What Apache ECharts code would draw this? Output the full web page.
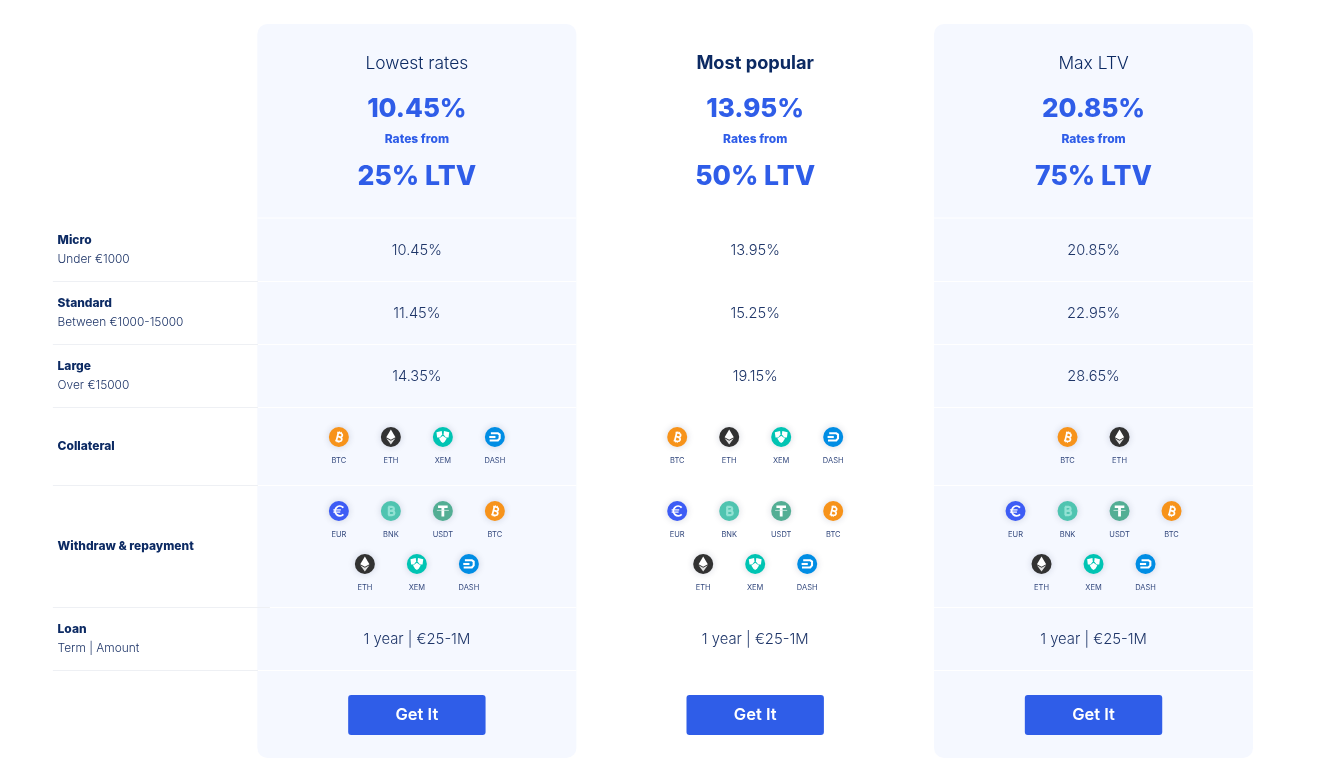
<!DOCTYPE html>
<html><head><meta charset="utf-8">
<style>html,body{margin:0;padding:0;background:#fff;overflow:hidden}#c{width:1318px;height:765px}</style>
<script src="https://cdn.jsdelivr.net/npm/echarts@6/dist/echarts.min.js"></script>
</head><body><div id="c"></div>
<script>
// ---- data ----
const plans = ['Lowest rates', 'Most popular', 'Max LTV'];
const headlineRates = ['10.45%', '13.95%', '20.85%'];
const ltvs = ['25% LTV', '50% LTV', '75% LTV'];
const microRates = ['10.45%', '13.95%', '20.85%'];
const standardRates = ['11.45%', '15.25%', '22.95%'];
const largeRates = ['14.35%', '19.15%', '28.65%'];
const loanTerms = ['1 year | €25-1M', '1 year | €25-1M', '1 year | €25-1M'];
const rowTitles = ['Micro', 'Standard', 'Large', 'Collateral', 'Withdraw & repayment', 'Loan'];
const rowNotes = ['Under €1000', 'Between €1000-15000', 'Over €15000', '', '', 'Term | Amount'];
const collateral = [['BTC','ETH','XEM','DASH'], ['BTC','ETH','XEM','DASH'], ['BTC','ETH']];
const withdrawTop = ['EUR','BNK','USDT','BTC'];
const withdrawBottom = ['ETH','XEM','DASH'];
const ratesFromLabel = 'Rates from';
const buttonLabel = 'Get It';

// ---- layout & style ----
const Y = {cardTop:24, cardBottom:758, plan:64, headline:109, from:139.5, ltv:176.5, micro:251, standard:314, large:377,
  loan:640, btnTop:695, btnBottom:735, collateral:437, wTop:511, wBottom:564};
const cardPlans = [0, 2];
const cardLines = [218, 281.5, 344.5, 407.5, 485.5, 607.5, 670.5];
const sideLines = [281.5, 344.5, 407.5, 485.5, 607.5, 670.5];
const sideRows = [[240,259.5],[303,322.5],[366,385.5],[446,null],[546,null],[629,648.5]];
const NAVY='#0c2a63', BLUE='#2f5de8', BODY='#1e3568', CARD='#f5f8ff';
const HEAD='Inter';
const icons = {
  BTC:{bg:'#f7931a',g:'btc'}, ETH:{bg:'#323232',g:'eth'}, XEM:{bg:'#00c4b3',g:'xem'}, DASH:{bg:'#008de4',g:'dash'},
  EUR:{bg:'#3d5cf5',g:'eur'}, BNK:{bg:'#4fc4b0',g:'bnk'}, USDT:{bg:'#53ae94',g:'usdt'}
};
const W='#fff';
const pl=(points,lw,c)=>({type:'polyline',shape:{points},style:{stroke:c||W,lineWidth:lw,fill:null}});
const pg=(points,c)=>({type:'polygon',shape:{points},style:{fill:c||W}});
const bShape=[[-2.6,-4.2],[1,-4.2],[2.6,-3.4],[3,-2.1],[2.6,-0.9],[1,-0.2],[3,0.6],[3.5,2],[3,3.4],[1,4.2],[-2.6,4.2]];
const glyphs = {
  btc:()=>({type:'group',rotation:-0.24,children:[
    pl(bShape,1.7), pl([[-1.5,-4.2],[-1.5,4.2]],1.7), pl([[-1.5,-0.2],[1,-0.2]],1.7),
    pl([[-0.5,-5.6],[-0.5,-4]],1), pl([[1.3,-5.6],[1.3,-4]],1), pl([[-0.5,4],[-0.5,5.6]],1), pl([[1.3,4],[1.3,5.6]],1)]}),
  eth:()=>({type:'group',children:[
    pg([[0,-7.4],[4.6,0.2],[0,2.8],[-4.6,0.2]]), pg([[0,3.8],[4.6,1.2],[0,7.4],[-4.6,1.2]],'#e2e2e2')]}),
  xem:()=>({type:'group',children:[
    pg([[-6.4,-4.8],[-1.1,-6],[-0.7,-2.6],[-3,0.6],[-5.7,0.4]]),
    pg([[1.1,-6],[6.4,-4.8],[5.7,0.4],[3,0.6],[0.7,-2.6]]),
    pg([[-3.8,1.6],[0,-1.3],[3.8,1.6],[1.8,4.8],[0,6],[-1.8,4.8]])]}),
  dash:()=>({type:'group',children:[
    pl([[-4,-3.8],[3,-3.8],[4.8,-2.4],[4.8,1.4],[3,3.5],[-5.2,3.5]],2.1), pl([[-5.6,0],[0.6,0]],2.1)]}),
  eur:()=>({type:'group',children:[
    {type:'arc',shape:{cx:1,cy:0,r:4.8,startAngle:0.75,endAngle:Math.PI*2-0.75,clockwise:true},style:{stroke:W,lineWidth:1.8,fill:null}},
    pl([[-5.6,-1.1],[2,-1.1]],1.2), pl([[-5.6,1.1],[1.4,1.1]],1.2)]}),
  bnk:()=>({type:'group',children:[
    pl(bShape,2.2,'#93e2d4'), pl([[-2,-4.2],[-2,4.2]],2.2,'#93e2d4'), pl([[-2,-0.2],[1,-0.2]],2.2,'#93e2d4')]}),
  usdt:()=>({type:'group',children:[
    pg([[-4.8,-5.4],[4.8,-5.4],[4.8,-3],[1.4,-3],[1.4,5.6],[-1.4,5.6],[-1.4,-3],[-4.8,-3]]),
    pl([[-6,-0.6],[6,-0.6]],0.8,'#d8f0e8')]})
};

// ---- cell table built from the arrays ----
const texts=[], iconCells=[];
plans.forEach((p,i)=>{
  texts.push({i,y:Y.plan,t:p,f:HEAD,s:i===1?18.2:17.4,w:i===1?700:300,c:NAVY});
  texts.push({i,y:Y.headline,t:headlineRates[i],f:HEAD,s:26,w:800,c:BLUE});
  texts.push({i,y:Y.from,t:ratesFromLabel,f:HEAD,s:12,w:800,c:BLUE});
  texts.push({i,y:Y.ltv,t:ltvs[i],f:HEAD,s:26.6,w:800,c:BLUE});
  texts.push({i,y:Y.micro,t:microRates[i],f:HEAD,s:14.6,w:300,c:BODY});
  texts.push({i,y:Y.standard,t:standardRates[i],f:HEAD,s:14.6,w:300,c:BODY});
  texts.push({i,y:Y.large,t:largeRates[i],f:HEAD,s:14.6,w:300,c:BODY});
  texts.push({i,y:Y.loan,t:loanTerms[i],f:HEAD,s:14.8,w:300,c:BODY});
  const place=(list,y)=>list.forEach((a,k)=>iconCells.push({i,y,a,dx:(k-(list.length-1)/2)*52}));
  place(collateral[i],Y.collateral); place(withdrawTop,Y.wTop); place(withdrawBottom,Y.wBottom);
});

const ax = (api,i,y)=>api.coord([plans[i],y]);
const txt=(x,y,o,align)=>({type:'text',x,y,style:{text:o.t,fill:o.c,fontFamily:o.f,fontSize:o.s,fontWeight:o.w,textAlign:align||'center',textVerticalAlign:'middle'}});

const series=[
  {type:'custom',silent:true,clip:false,z:1,data:cardPlans,renderItem:(p,api)=>{
    const i=cardPlans[p.dataIndex], a=ax(api,i,Y.cardTop), b=ax(api,i,Y.cardBottom), w=319;
    const kids=[{type:'rect',shape:{x:a[0]-w/2,y:a[1],width:w,height:b[1]-a[1],r:10},style:{fill:CARD}}];
    cardLines.forEach(v=>{const q=ax(api,i,v);kids.push({type:'line',shape:{x1:a[0]-w/2,y1:q[1],x2:a[0]+w/2,y2:q[1]},style:{stroke:'#fff',lineWidth:1}});});
    return {type:'group',children:kids};
  }},
  {type:'custom',silent:true,clip:false,z:2,data:sideLines,renderItem:(p,api)=>{
    const v=sideLines[p.dataIndex], o=ax(api,0,v);
    const x1=o[0]-364, x2=o[0]-159+(v===607.5?12:0);
    return {type:'line',shape:{x1,y1:o[1],x2,y2:o[1]},style:{stroke:'#eef0f4',lineWidth:1}};
  }},
  {type:'custom',silent:true,clip:false,z:3,data:rowTitles,renderItem:(p,api)=>{
    const k=p.dataIndex, r=sideRows[k], a=ax(api,0,r[0]), kids=[];
    kids.push(txt(a[0]-359.3,a[1],{t:rowTitles[k],f:HEAD,s:12,w:800,c:NAVY},'left'));
    if(rowNotes[k]){const b=ax(api,0,r[1]);kids.push(txt(b[0]-359.3,b[1],{t:rowNotes[k],f:HEAD,s:11.9,w:300,c:BODY},'left'));}
    return {type:'group',children:kids};
  }},
  {type:'custom',silent:true,clip:false,z:3,data:texts.map(o=>o.t),renderItem:(p,api)=>{
    const o=texts[p.dataIndex], a=ax(api,o.i,o.y);
    return txt(a[0],a[1],o);
  }},
  {type:'custom',silent:true,clip:false,z:3,data:iconCells.map(o=>o.a),renderItem:(p,api)=>{
    const o=iconCells[p.dataIndex], a=ax(api,o.i,o.y), cfg=icons[o.a], x=a[0]+o.dx, y=a[1];
    return {type:'group',x,y,children:[
      {type:'circle',shape:{cx:0,cy:0,r:10},style:{fill:cfg.bg,shadowBlur:7,shadowColor:'rgba(30,40,80,0.18)'}},
      glyphs[cfg.g](),
      txt(0,23.5,{t:o.a,f:HEAD,s:7.5,w:400,c:'#34497e'})
    ]};
  }},
  {type:'custom',silent:true,clip:false,z:3,data:plans,renderItem:(p,api)=>{
    const i=p.dataIndex, a=ax(api,i,Y.btnTop), b=ax(api,i,Y.btnBottom), c=ax(api,i,(Y.btnTop+Y.btnBottom)/2);
    return {type:'group',children:[
      {type:'rect',shape:{x:a[0]-68.7,y:a[1],width:137.4,height:b[1]-a[1],r:3},style:{fill:BLUE}},
      txt(a[0],c[1],{t:buttonLabel,f:HEAD,s:16.5,w:600,c:'#fff'})
    ]};
  }}
];
const chart=echarts.init(document.getElementById('c'),null,{renderer:'canvas'});
chart.setOption({
  animation:false,backgroundColor:'#fff',
  grid:{left:247.7,top:0,width:1015,height:765},
  xAxis:{type:'category',data:plans,show:false},
  yAxis:{type:'value',min:0,max:765,inverse:true,show:false},
  series
});
</script></body></html>
